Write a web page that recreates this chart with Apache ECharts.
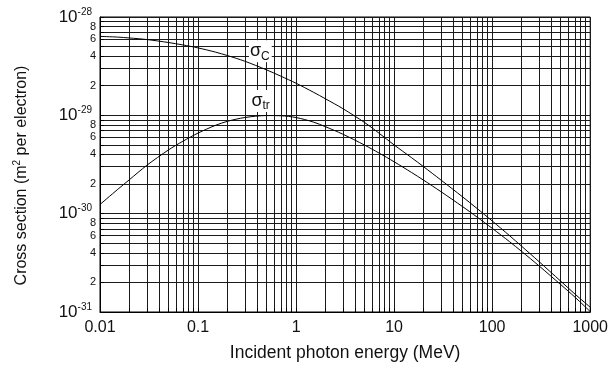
<!DOCTYPE html>
<html><head><meta charset="utf-8">
<script src="https://cdn.jsdelivr.net/npm/echarts@6/dist/echarts.min.js"></script>
<style>html,body{margin:0;padding:0;background:#fff}#c{width:611px;height:377px}</style>
</head><body><div id="c"></div>
<script>
// Incident photon energy (MeV)
const energies = [0.01, 0.015, 0.02, 0.03, 0.05, 0.07, 0.1, 0.15, 0.2, 0.3, 0.5, 0.7, 1, 1.5, 2, 3, 5, 7, 10, 15, 20, 30, 50, 70, 100, 150, 200, 300, 500, 700, 1000];
// Compton cross section per electron, in units of 1e-29 m^2
const sigmaC = [6.35, 6.25, 6.12, 5.9, 5.5, 5.2, 4.85, 4.4, 4.05, 3.55, 2.9, 2.5, 2.12, 1.72, 1.47, 1.17, 0.845, 0.66, 0.50, 0.372, 0.300, 0.220, 0.148, 0.113, 0.0844, 0.0599, 0.0466, 0.0326, 0.0206, 0.0152, 0.0112];
// Energy-transfer cross section per electron, in units of 1e-29 m^2
const sigmaTr = [0.124, 0.175, 0.222, 0.310, 0.445, 0.545, 0.660, 0.790, 0.870, 0.950, 0.995, 0.990, 0.950, 0.855, 0.765, 0.643, 0.498, 0.414, 0.337, 0.263, 0.219, 0.1676, 0.1178, 0.0925, 0.0710, 0.0520, 0.0413, 0.0295, 0.0190, 0.01414, 0.0101];
const Y_UNIT_EXP = -29; // data unit = 10^-29 m^2
// Axis label values
const xLabelValues = [0.01, 0.1, 1, 10, 100, 1000];
const yDecades = [0.01, 0.1, 1, 10];
const yMinorLabelMantissas = [2, 4, 6, 8];
const gridMantissas = [1, 2, 3, 4, 5, 6, 7, 8, 9];
// Curve label anchors [energy, cross section]
const labelC = [0.432, 4.49];
const labelTr = [0.44, 1.40];

const FONT = 'Liberation Sans, Arial, Helvetica, sans-serif';

function decadeGrid(minExp, maxExp) {
  const out = [];
  for (let e = minExp; e < maxExp; e++) {
    for (const m of gridMantissas) out.push(parseFloat(m + 'e' + e));
  }
  out.push(parseFloat('1e' + maxExp));
  return out;
}
const xGrid = decadeGrid(-2, 3);
const yGrid = decadeGrid(-2, 1);
const yMinorLabelValues = [];
yDecades.forEach((d, i) => {
  if (i < yDecades.length - 1) for (const m of yMinorLabelMantissas) yMinorLabelValues.push(parseFloat((m * d).toPrecision(6)));
});

function pairs(xs, ys) { return xs.map((x, i) => [x, ys[i]]); }

const chart = echarts.init(document.getElementById('c'), null, {renderer: 'canvas'});
const lineColor = '#1a1a1a';
const labelRich = {
  s: {fontFamily: FONT, fontSize: 18, color: '#111', lineHeight: 22},
  sub: {fontFamily: FONT, fontSize: 12, color: '#111', lineHeight: 12, verticalAlign: 'bottom'}
};
const yBase = {type: 'log', logBase: 10, min: 0.01, max: 10, position: 'left'};
chart.setOption({
  animation: false,
  backgroundColor: '#fff',
  grid: {left: 100, right: 19, top: 17, bottom: 65, show: true, borderColor: '#000', borderWidth: 1},
  xAxis: {
    type: 'log', logBase: 10, min: 0.01, max: 1000,
    name: 'Incident photon energy (MeV)', nameLocation: 'middle', nameGap: 32,
    nameTextStyle: {fontFamily: FONT, fontSize: 17.5, color: '#111'},
    axisLine: {show: true, lineStyle: {color: '#000'}},
    axisTick: {show: true, inside: true, length: 4, customValues: xGrid, lineStyle: {color: '#000'}},
    splitLine: {show: true, lineStyle: {color: lineColor, width: 1}},
    minorTick: {show: false}, minorSplitLine: {show: false},
    axisLabel: {customValues: xLabelValues, fontFamily: FONT, fontSize: 16, color: '#111', margin: 8,
      showMinLabel: true, showMaxLabel: true, formatter: v => String(v)}
  },
  yAxis: [Object.assign({}, yBase, {
    name: '{t|Cross section (m}{sup|2}{t| per electron)}', nameLocation: 'middle', nameGap: 69, nameRotate: 90,
    nameTextStyle: {fontFamily: FONT, fontSize: 16, color: '#111', padding: [0, 22, 0, 0],
      rich: {t: {fontFamily: FONT, fontSize: 16, color: '#111', lineHeight: 19},
             sup: {fontFamily: FONT, fontSize: 10, color: '#111', lineHeight: 10, verticalAlign: 'top'}}},
    axisLine: {show: true, lineStyle: {color: '#000'}},
    axisTick: {show: true, inside: true, length: 4, customValues: yGrid, lineStyle: {color: '#000'}},
    splitLine: {show: true, lineStyle: {color: lineColor, width: 1}},
    minorTick: {show: false}, minorSplitLine: {show: false},
    axisLabel: {customValues: yDecades, margin: 4, color: '#111', showMinLabel: true, showMaxLabel: true,
      formatter: v => '{b|10}{sup|' + (Math.round(Math.log10(v)) + Y_UNIT_EXP) + '}',
      rich: {
        b: {fontFamily: FONT, fontSize: 17, color: '#111', lineHeight: 20},
        sup: {fontFamily: FONT, fontSize: 10, color: '#111', lineHeight: 10, verticalAlign: 'top', padding: [0, 4, 0, 0]}
      }
    }
  }), Object.assign({}, yBase, {
    axisLine: {show: false}, axisTick: {show: false, customValues: yMinorLabelValues},
    splitLine: {show: false}, minorTick: {show: false}, minorSplitLine: {show: false},
    axisLabel: {customValues: yMinorLabelValues, margin: 4, fontFamily: FONT, fontSize: 11, color: '#111',
      showMinLabel: true, showMaxLabel: true,
      formatter: v => String(Math.round(v / Math.pow(10, Math.floor(Math.log10(v) + 1e-9))))}
  })],
  series: [
    {type: 'line', name: 'σC', data: pairs(energies, sigmaC), smooth: 0.3, showSymbol: false,
      lineStyle: {color: '#000', width: 1}, z: 5,
      markPoint: {symbol: 'rect', symbolSize: 1, itemStyle: {color: 'rgba(0,0,0,0)'},
        data: [{coord: labelC}],
        label: {show: true, position: 'inside', formatter: '{s|σ}{sub|C}', backgroundColor: '#fff', padding: [0, 2, 0, 1], rich: labelRich}}},
    {type: 'line', name: 'σtr', data: pairs(energies, sigmaTr), smooth: 0.3, showSymbol: false,
      lineStyle: {color: '#000', width: 1}, z: 5,
      markPoint: {symbol: 'rect', symbolSize: 1, itemStyle: {color: 'rgba(0,0,0,0)'},
        data: [{coord: labelTr}],
        label: {show: true, position: 'inside', formatter: '{s|σ}{sub|tr}', backgroundColor: '#fff', padding: [0, 2, 0, 1], rich: labelRich}}}
  ]
});
</script></body></html>
